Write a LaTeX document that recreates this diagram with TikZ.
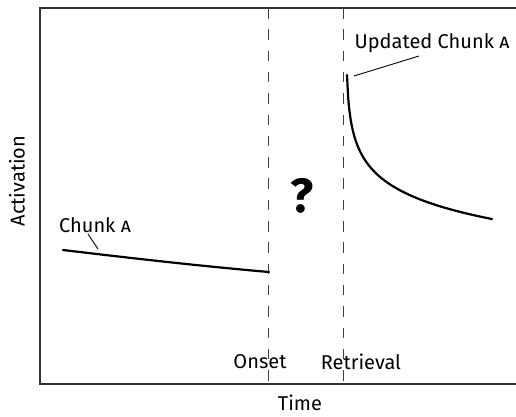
\documentclass[tikz,border=0pt]{standalone}
\usepackage{fontspec}
\setmainfont{Fira Sans}
\begin{document}
\begin{tikzpicture}[x=1pt,y=-1pt,
  frame/.style={line width=1.6pt, draw=black!80},
  marker/.style={line width=1.2pt, draw=black!75, dash pattern=on 10.5pt off 10.8pt},
  trace/.style={line width=2.2pt, line cap=round},
  leader/.style={line width=0.9pt},
  lbl/.style={font=\fontsize{20}{22}\selectfont, inner sep=0pt}]
\useasboundingbox (0,0) rectangle (516,416);

% axes frame (open on the right)
\coordinate (frTR) at (516,8);
\coordinate (frTL) at (40,8);
\coordinate (frBL) at (40,384);
\coordinate (frBR) at (516,384);
\draw[frame] (frTR) -- (frTL) -- (frBL) -- (frBR);

% event markers
\coordinate (onsetTop) at (268.5,8);
\coordinate (onsetBot) at (268.5,384);
\coordinate (retrTop) at (343.5,8);
\coordinate (retrBot) at (343.5,384);
\draw[marker] (onsetTop) -- (onsetBot);
\draw[marker] (retrTop) -- (retrBot);

% labels
\node[lbl] (act) at (17,181) [rotate=90] {Activation};
\node[lbl] (time) at (300,403) {Time};
\node[lbl] (onset) at (260,362) {Onset};
\node[lbl] (retr) at (361,362) {Retrieval};
\node[lbl] (chunkA) at (95,225) {Chunk \textsc{a}};
\node[lbl] (updA) at (432,43) {Updated Chunk \textsc{a}};
\node[font=\fontsize{48}{48}\selectfont\bfseries, inner sep=0pt] (q) at (302,196) {?};

% chunk A before onset
\coordinate (aStart) at (63,250);
\coordinate (aEnd) at (269,272);
\draw[trace] (aStart) .. controls (130,258) and (200,266) .. (aEnd);

% updated chunk A after retrieval
\draw[trace] plot[domain=347:492, samples=120, smooth]
  (\x, {75 + 28.9*ln(\x-346)});
\coordinate (uStart) at (347,75);

% leader lines
\coordinate (aLeadTop) at (88,234);
\coordinate (aLeadBot) at (98,249);
\draw[leader] (aLeadTop) -- (aLeadBot);
\coordinate (uLeadA) at (354,76);
\coordinate (uLeadB) at (419,56);
\draw[leader] (uLeadA) -- (uLeadB);
\end{tikzpicture}
\end{document}
